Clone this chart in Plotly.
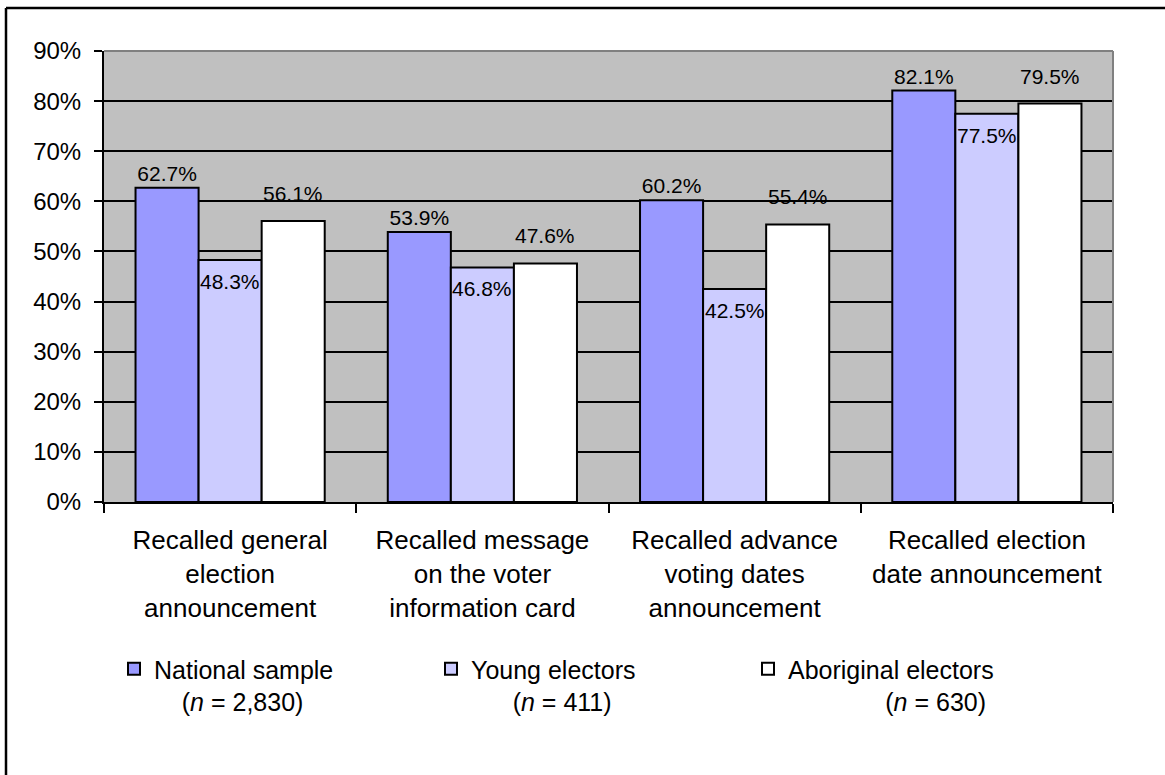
import plotly.graph_objects as go

categories = [
    "Recalled general<br>election<br>announcement",
    "Recalled message<br>on the voter<br>information card",
    "Recalled advance<br>voting dates<br>announcement",
    "Recalled election<br>date announcement",
]
national = [62.7, 53.9, 60.2, 82.1]
young = [48.3, 46.8, 42.5, 77.5]
aboriginal = [56.1, 47.6, 55.4, 79.5]

series_names = [
    "National sample<br>\u00a0\u00a0\u00a0\u00a0(<i>n</i> = 2,830)",
    "Young electors<br>\u00a0\u00a0\u00a0\u00a0\u00a0\u00a0(<i>n</i> = 411)",
    "Aboriginal electors<br>\u00a0\u00a0\u00a0\u00a0\u00a0\u00a0\u00a0\u00a0\u00a0\u00a0\u00a0\u00a0\u00a0\u00a0(<i>n</i> = 630)",
]
colors = ["#9999FF", "#CCCCFF", "#FFFFFF"]
y_ticks = list(range(0, 91, 10))

W, H = 1165, 775
ml, mr, mt, mb = 104, 52, 51, 273
pw, ph = W - ml - mr, H - mt - mb
BARGAP = 0.25
bw = pw / len(categories) * (1 - BARGAP) / 3  # pixel width of one bar

FONT = "Liberation Sans, Arial, sans-serif"
LABEL_SIZE = 21

fig = go.Figure()
series_vals = [national, young, aboriginal]
for idx, (name, vals, col) in enumerate(zip(series_names, series_vals, colors)):
    fig.add_trace(go.Bar(
        x=categories, y=vals, name=name,
        marker=dict(color=col, line=dict(color="black", width=2)),
        text=[f"{v:.1f}%" for v in vals] if idx == 0 else None,
        textposition="outside" if idx == 0 else "none",
        textangle=0,
        constraintext="none",
        textfont=dict(family=FONT, size=LABEL_SIZE, color="black"),
        cliponaxis=False,
        hoverinfo="skip",
    ))

annotations = []
# Young electors: label just below the top of the bar
for c, v in zip(categories, young):
    annotations.append(dict(
        x=c, y=v, xref="x", yref="y", text=f"{v:.1f}%", showarrow=False,
        xshift=0, yshift=-8, yanchor="top", xanchor="center",
        font=dict(family=FONT, size=LABEL_SIZE, color="black"),
    ))
# Aboriginal electors: label well above the bar
for c, v in zip(categories, aboriginal):
    annotations.append(dict(
        x=c, y=v, xref="x", yref="y", text=f"{v:.1f}%", showarrow=False,
        xshift=bw, yshift=14, yanchor="bottom", xanchor="center",
        font=dict(family=FONT, size=LABEL_SIZE, color="black"),
    ))


def px_to_paper_x(px):
    return (px - ml) / pw


def px_to_paper_y(py):
    return (H - mb - py) / ph


shapes = [
    dict(type="line", xref="paper", yref="paper", x0=0, x1=1, y0=1, y1=1,
         line=dict(color="#808080", width=2), layer="above"),
    dict(type="line", xref="paper", yref="paper", x0=1, x1=1, y0=0, y1=1,
         line=dict(color="#808080", width=2), layer="above"),
    dict(type="line", xref="paper", yref="paper",
         x0=px_to_paper_x(6), x1=px_to_paper_x(W + 10),
         y0=px_to_paper_y(8), y1=px_to_paper_y(8),
         line=dict(color="black", width=2.5)),
    dict(type="line", xref="paper", yref="paper",
         x0=px_to_paper_x(6), x1=px_to_paper_x(6),
         y0=px_to_paper_y(8), y1=px_to_paper_y(H + 10),
         line=dict(color="black", width=2.5)),
]

fig.update_layout(
    width=W, height=H,
    margin=dict(l=ml, r=mr, t=mt, b=mb, autoexpand=False),
    paper_bgcolor="white",
    plot_bgcolor="#C0C0C0",
    barmode="group",
    bargap=BARGAP,
    bargroupgap=0,
    font=dict(family=FONT, size=24, color="black"),
    showlegend=True,
    hovermode=False,
    legend=dict(
        orientation="h",
        x=px_to_paper_x(114), xanchor="left",
        y=px_to_paper_y(646), yanchor="top",
        font=dict(family=FONT, size=25, color="black"),
        entrywidth=272, entrywidthmode="pixels",
        valign="top",
        bgcolor="rgba(0,0,0,0)",
        traceorder="normal",
    ),
    shapes=shapes,
    annotations=annotations,
)

fig.update_xaxes(
    type="category",
    showline=True, linecolor="black", linewidth=2,
    ticks="outside", tickson="boundaries", ticklen=9, tickwidth=2, tickcolor="black",
    tickfont=dict(family=FONT, size=26, color="black"),
    ticklabelstandoff=14,
    showgrid=False,
)
fig.update_yaxes(
    range=[0, 90],
    tickvals=y_ticks,
    ticktext=[f"{v}%" for v in y_ticks],
    showline=True, linecolor="black", linewidth=2,
    ticks="outside", ticklen=8, tickwidth=2, tickcolor="black",
    tickfont=dict(family=FONT, size=24, color="black"),
    ticklabelstandoff=8,
    showgrid=True, gridcolor="black", gridwidth=1.5,
    zeroline=False,
)

fig.write_html("out.html", config={"displayModeBar": False},
               post_script="document.body.style.margin='0';")
